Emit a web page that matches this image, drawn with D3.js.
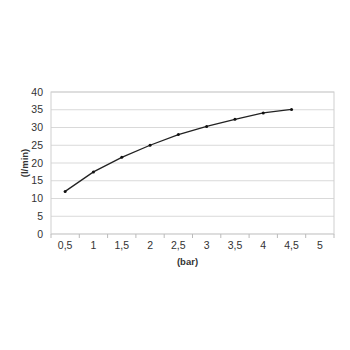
<!DOCTYPE html>
<html>
<head>
<meta charset="utf-8">
<script src="https://cdn.jsdelivr.net/npm/d3@7"></script>
<style>
  body { margin: 0; background: #fff; }
  text { font-family: "Liberation Sans", Arial, sans-serif; fill: #333; }
</style>
</head>
<body>
<div id="chart"></div>
<script>
// pressure categories and flow values
const pressures = ["0,5", "1", "1,5", "2", "2,5", "3", "3,5", "4", "4,5", "5"];
const flow = [12, 17.5, 21.6, 25, 28, 30.3, 32.3, 34.1, 35.1];
const yTicks = [0, 5, 10, 15, 20, 25, 30, 35, 40];

const width = 350, height = 350;
const margin = { left: 51, right: 16, top: 92, bottom: 116 };

const svg = d3.select("#chart").append("svg")
    .attr("width", width)
    .attr("height", height);

const x = d3.scaleBand()
    .domain(pressures)
    .range([margin.left, width - margin.right]);

const y = d3.scaleLinear()
    .domain([0, 40])
    .range([height - margin.bottom, margin.top]);

// gridlines
svg.selectAll(".grid")
    .data(yTicks)
    .enter()
    .append("line")
    .attr("x1", margin.left)
    .attr("x2", width - margin.right)
    .attr("y1", d => y(d))
    .attr("y2", d => y(d))
    .attr("stroke", "#d9d9d9")
    .attr("stroke-width", 1);

// plot border
svg.append("rect")
    .attr("x", margin.left)
    .attr("y", margin.top)
    .attr("width", width - margin.left - margin.right)
    .attr("height", height - margin.top - margin.bottom)
    .attr("fill", "none")
    .attr("stroke", "#cfcfcf");

// y axis labels
svg.selectAll(".ylab")
    .data(yTicks)
    .enter()
    .append("text")
    .attr("x", margin.left - 8)
    .attr("y", d => y(d))
    .attr("dy", "0.35em")
    .attr("text-anchor", "end")
    .style("font-size", "10.5px")
    .text(d => d);

// x axis ticks between categories
const bounds = pressures.map(p => x(p)).concat([x.range()[1]]);
svg.selectAll(".xtick")
    .data(bounds)
    .enter()
    .append("line")
    .attr("x1", d => d)
    .attr("x2", d => d)
    .attr("y1", y(0))
    .attr("y2", y(0) + 4)
    .attr("stroke", "#bbb");

svg.selectAll(".xlab")
    .data(pressures)
    .enter()
    .append("text")
    .attr("x", d => x(d) + x.bandwidth() / 2)
    .attr("y", y(0) + 11.5)
    .attr("dy", "0.35em")
    .attr("text-anchor", "middle")
    .style("font-size", "10.5px")
    .text(d => d);

// axis titles
svg.append("text")
    .attr("x", x.range()[0] + (x.range()[1] - x.range()[0]) / 2 - 5)
    .attr("y", y(0) + 30.5)
    .attr("text-anchor", "middle")
    .style("font-size", "9.5px")
    .style("font-weight", "bold")
    .text("(bar)");

svg.append("text")
    .attr("transform", "translate(28," + (y(20)) + ") rotate(-90)")
    .attr("text-anchor", "middle")
    .style("font-size", "9.5px")
    .style("font-weight", "bold")
    .text("(l/min)");

// line and markers
const pts = flow.map((v, i) => ({ x: x(pressures[i]) + x.bandwidth() / 2, y: y(v) }));

svg.append("path")
    .datum(pts)
    .attr("fill", "none")
    .attr("stroke", "#222")
    .attr("stroke-width", 1.3)
    .attr("d", d3.line().x(d => d.x).y(d => d.y));

svg.selectAll(".pt")
    .data(pts)
    .enter()
    .append("circle")
    .attr("cx", d => d.x)
    .attr("cy", d => d.y)
    .attr("r", 1.5)
    .attr("fill", "#111");
</script>
</body>
</html>
